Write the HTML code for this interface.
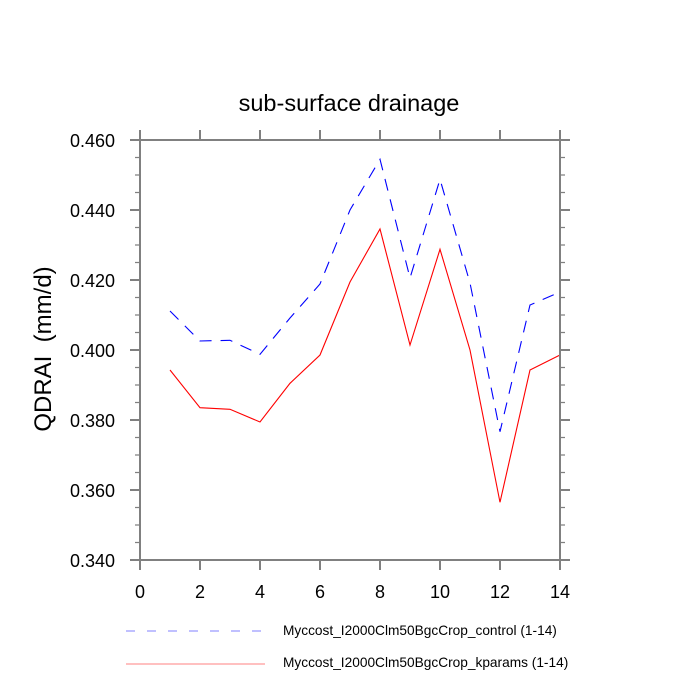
<!DOCTYPE html>
<html><head><meta charset="utf-8"><style>
html,body{margin:0;padding:0;background:#fff;}
svg{display:block;}
text{font-family:"Liberation Sans",Arial,sans-serif;fill:#000;}
</style></head><body>
<svg width="700" height="700" viewBox="0 0 700 700" xmlns="http://www.w3.org/2000/svg">
<rect width="700" height="700" fill="#fff"/>
<text x="349" y="111" font-size="23.5" text-anchor="middle">sub-surface drainage</text>
<text transform="translate(51,349) rotate(-90)" font-size="24" text-anchor="middle" xml:space="preserve">QDRAI  (mm/d)</text>

<!-- series -->
<polyline fill="none" stroke="#0000ff" stroke-width="1.1" stroke-dasharray="12,9"
 points="170,311 200,341 230,340.3 260,354.3 290,318 320,284 350,210 380,159.3 410,278 440,179.3 470,283 500,431.7 530,305 560,292"/>
<polyline fill="none" stroke="#ff0000" stroke-width="1.1"
 points="170,370 200,407.7 230,409.3 260,422 290,383.3 320,355 350,282 380,229 410,345 440,249.3 470,350 500,502.3 530,370 560,355"/>

<g stroke="#808080" stroke-width="2" fill="none">
<rect x="140" y="140" width="420" height="420"/>
<path d="M140 560V570M200 560V570M260 560V570M320 560V570M380 560V570M440 560V570M500 560V570M560 560V570
M140 140V130M200 140V130M260 140V130M320 140V130M380 140V130M440 140V130M500 140V130M560 140V130"/>
<path d="M140 140H130M140 210H130M140 280H130M140 350H130M140 420H130M140 490H130M140 560H130
M560 140H570M560 210H570M560 280H570M560 350H570M560 420H570M560 490H570M560 560H570"/>
</g>
<g stroke="#808080" stroke-width="1.2" fill="none">
<path d="M140 157.5H135M140 175H135M140 192.5H135M140 227.5H135M140 245H135M140 262.5H135M140 297.5H135M140 315H135M140 332.5H135M140 367.5H135M140 385H135M140 402.5H135M140 437.5H135M140 455H135M140 472.5H135M140 507.5H135M140 525H135M140 542.5H135
M560 157.5H565M560 175H565M560 192.5H565M560 227.5H565M560 245H565M560 262.5H565M560 297.5H565M560 315H565M560 332.5H565M560 367.5H565M560 385H565M560 402.5H565M560 437.5H565M560 455H565M560 472.5H565M560 507.5H565M560 525H565M560 542.5H565"/>
</g>

<g font-size="18" text-anchor="end">
<text x="115" y="147">0.460</text>
<text x="115" y="217">0.440</text>
<text x="115" y="287">0.420</text>
<text x="115" y="357">0.400</text>
<text x="115" y="427">0.380</text>
<text x="115" y="497">0.360</text>
<text x="115" y="567">0.340</text>
</g>
<g font-size="18" text-anchor="middle">
<text x="140" y="598">0</text>
<text x="200" y="598">2</text>
<text x="260" y="598">4</text>
<text x="320" y="598">6</text>
<text x="380" y="598">8</text>
<text x="440" y="598">10</text>
<text x="500" y="598">12</text>
<text x="560" y="598">14</text>
</g>

<!-- legend -->
<line x1="126" y1="631" x2="264" y2="631" stroke="#8080ff" stroke-width="1" stroke-dasharray="9,12"/>
<line x1="126" y1="664" x2="265" y2="664" stroke="#ff8080" stroke-width="1"/>
<text x="283" y="635" font-size="13.7">Myccost_I2000Clm50BgcCrop_control (1-14)</text>
<text x="283" y="667" font-size="13.7">Myccost_I2000Clm50BgcCrop_kparams (1-14)</text>
</svg>
</body></html>
